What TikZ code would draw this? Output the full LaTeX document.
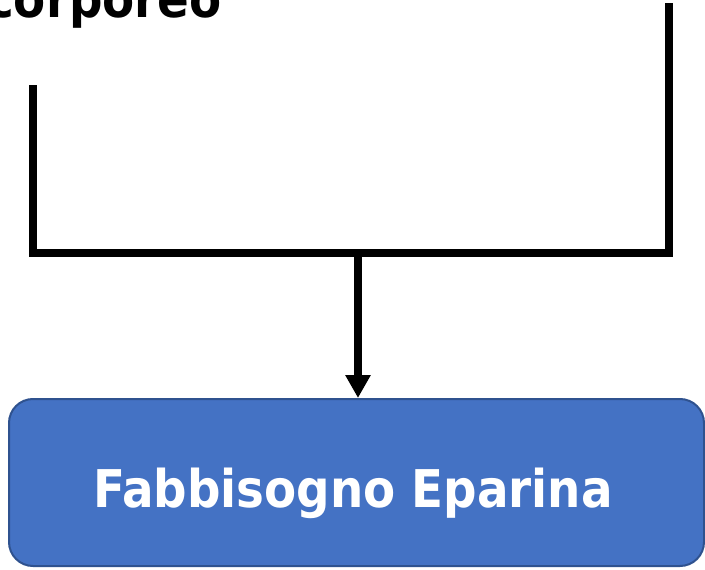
\documentclass[tikz,border=0pt]{standalone}
\usepackage{fontspec}
\setmainfont{DejaVu Sans}
\newfontfamily\labelfont{DejaVu Sans Condensed}[BoldFont={DejaVu Sans Condensed Bold}]
\usetikzlibrary{arrows.meta}
\definecolor{boxfill}{HTML}{4472C4}
\definecolor{boxline}{HTML}{2F528F}
\tikzset{
  conn/.style={line width=8pt, line join=miter, black},
  bluebox/.style={draw=boxline, fill=boxfill, line width=2pt, rounded corners=24pt,
    minimum width=695pt, minimum height=167pt, inner sep=0pt},
  bigtext/.style={font=\labelfont\bfseries\fontsize{52}{58}\selectfont, inner sep=0pt}
}
\begin{document}
\begin{tikzpicture}[x=1pt,y=-1pt]
\useasboundingbox (0,0) rectangle (705,570);
\node[bluebox] (fab) at (356.5,482.5) {};
\node[bigtext, text=white, anchor=base] (fabtxt) at (353,507) {Fabbisogno Eparina};
\node[bigtext, text=black, anchor=base east] (corp) at (222,17) {corporeo};
\coordinate (lt) at (33,85);
\coordinate (rt) at (669,3);
\coordinate (j) at (358,253);
\draw[conn] (lt) |- (j) -| (rt);
\draw[conn, -{Triangle[width=24pt,length=23pt]}] (j) -- (j |- fab.north);
\end{tikzpicture}
\end{document}
